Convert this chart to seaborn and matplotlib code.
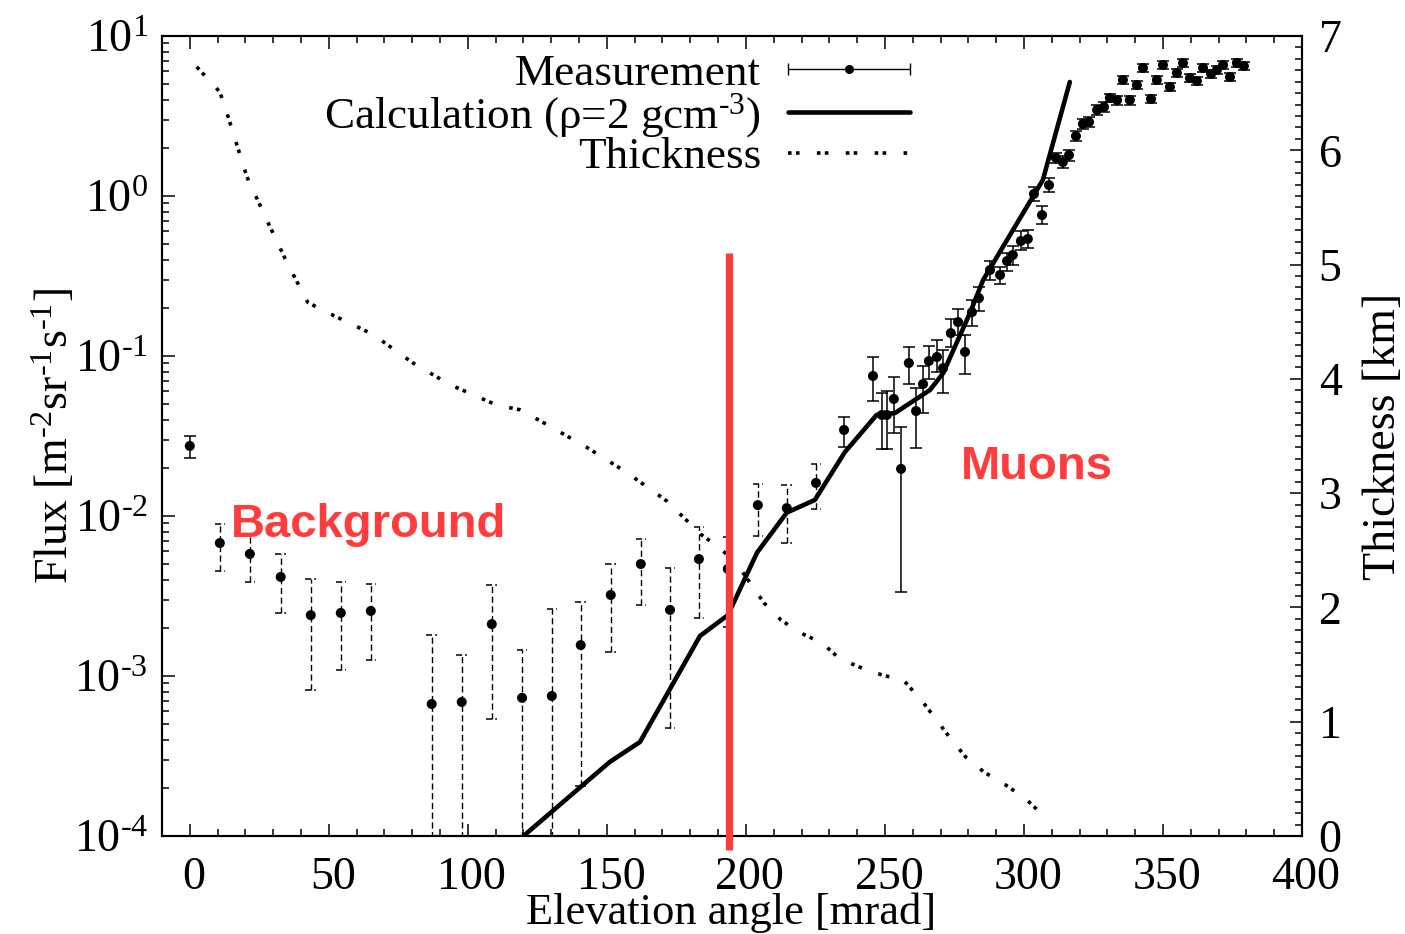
import numpy as np
import pandas as pd
import matplotlib
matplotlib.use("Agg")
import matplotlib.pyplot as plt
import seaborn as sns
from matplotlib.ticker import MultipleLocator, LogLocator, FuncFormatter, NullFormatter, FixedLocator
from matplotlib.container import ErrorbarContainer
from matplotlib.legend_handler import HandlerErrorbar
from matplotlib.lines import Line2D
from matplotlib.collections import LineCollection
from matplotlib.transforms import ScaledTranslation

# ---------------- data ----------------
# first measurement point (solid error bar)
first_angle = [0.0]
first_flux = [0.0274]
first_lo = [0.0230]
first_hi = [0.0316]

# background-region measurements (dashed error bars)
bg_angle = [10.8, 21.6, 32.7, 43.5, 54.3, 65.1, 87.0, 97.8, 108.6, 119.5,
            130.2, 140.6, 151.4, 162.2, 172.7, 183.1, 193.5, 204.3, 214.7, 225.2]
bg_flux = [0.00678, 0.00579, 0.00416, 0.00240, 0.00248, 0.00255, 0.000668, 0.000688, 0.00211, 0.00073,
           0.00075, 0.00156, 0.00321, 0.00501, 0.00259, 0.00538, 0.00467, 0.0117, 0.0112, 0.0161]
bg_hi = [0.0089, 0.0076, 0.00579, 0.00404, 0.00387, 0.00378, 0.0018, 0.00135, 0.00371, 0.00145,
         0.00262, 0.0029, 0.00501, 0.00718, 0.00473, 0.00853, 0.0074, 0.0158, 0.0156, 0.0211]
bg_lo = [0.00453, 0.00387, 0.00248, 0.000818, 0.00109, 0.00126, 2e-5, 2e-5, 0.000538, 2e-5,
         2e-5, 0.000205, 0.00141, 0.00278, 0.000473, 0.0023, 0.00202, 0.0075, 0.0068, 0.0111]

# muon-region measurements (solid error bars)
mu_angle = [235.3, 245.7, 248.9, 250.7, 253.2, 255.8, 258.6, 261.2, 263.7, 265.8,
            268.7, 270.9, 273.7, 276.3, 278.8, 281.3, 283.8, 287.8, 291.4, 293.9,
            296.0, 298.9, 301.4, 303.6, 306.5, 309.0, 311.5, 314.0, 316.2, 318.7,
            321.2, 323.4, 326.3, 328.8, 330.9, 333.5, 335.6, 338.1, 340.6, 342.8,
            345.7, 347.8, 350.0, 352.5, 355.0, 357.2, 359.7, 362.2, 364.4, 367.3,
            369.4, 371.6, 374.1, 376.6, 379.1]
mu_flux = [0.0345, 0.075, 0.0428, 0.0428, 0.0539, 0.0197, 0.0904, 0.0453, 0.0668, 0.093,
           0.0986, 0.084, 0.139, 0.163, 0.106, 0.188, 0.23, 0.345, 0.321, 0.392,
           0.428, 0.523, 0.539, 1.03, 0.76, 1.17, 1.73, 1.63, 1.80, 2.37,
           2.82, 2.90, 3.45, 3.60, 4.10, 3.98, 5.31, 3.98, 4.94, 6.31,
           4.04, 5.31, 6.59, 4.80, 5.87, 6.78, 5.46, 5.23, 6.31, 5.79,
           6.13, 6.59, 5.54, 6.78, 6.49]
mu_lo = [0.0270, 0.0523, 0.0263, 0.0263, 0.0331, 0.00335, 0.0668, 0.0266, 0.044, 0.0718,
         0.0794, 0.0587, 0.114, 0.135, 0.077, 0.155, 0.19, 0.30, 0.28, 0.34,
         0.37, 0.46, 0.47, 0.93, 0.67, 1.06, 1.60, 1.50, 1.66, 2.20,
         2.62, 2.70, 3.22, 3.36, 3.85, 3.73, 5.00, 3.73, 4.64, 5.95,
         3.79, 5.00, 6.22, 4.50, 5.53, 6.40, 5.14, 4.92, 5.95, 5.45,
         5.77, 6.22, 5.22, 6.40, 6.12]
mu_hi = [0.0416, 0.0986, 0.0587, 0.0600, 0.074, 0.036, 0.114, 0.063, 0.0866, 0.1155,
         0.126, 0.109, 0.170, 0.197, 0.135, 0.225, 0.27, 0.39, 0.36, 0.44,
         0.49, 0.60, 0.61, 1.14, 0.86, 1.29, 1.87, 1.77, 1.95, 2.55,
         3.02, 3.10, 3.70, 3.85, 4.37, 4.24, 5.63, 4.24, 5.25, 6.68,
         4.30, 5.63, 6.97, 5.10, 6.22, 7.17, 5.79, 5.55, 6.68, 6.14,
         6.50, 6.97, 5.87, 7.17, 6.87]

# calculation (rho = 2 g/cm3)
calc_angle = [120.0, 151.0, 161.9, 183.5, 193.5, 204.0, 214.7, 224.8, 235.6, 247.0,
              253.6, 266.2, 270.9, 280.6, 285.3, 306.8, 316.5]
calc_flux = [1.0e-4, 2.9e-4, 3.87e-4, 1.78e-3, 2.4e-3, 5.9e-3, 1.05e-2, 1.26e-2, 2.51e-2, 4.28e-2,
             4.4e-2, 6.13e-2, 7.8e-2, 0.186, 0.298, 1.26, 5.16]

# thickness (km, right axis)
thick_angle = [2.5, 10.8, 13.3, 20.5, 27.7, 34.9, 42.4, 47.8, 65.8, 80.2,
               93.5, 110.4, 118.7, 127.7, 142.8, 157.2, 171.6, 183.8, 190.6, 196.8,
               206.5, 212.6, 219.4, 227.3, 233.8, 241.7, 250.0, 256.1, 263.7, 273.7,
               279.1, 285.6, 293.2, 300.4, 306.5]
thick_km = [6.73, 6.51, 6.33, 5.77, 5.39, 5.02, 4.67, 4.60, 4.39, 4.14,
            3.95, 3.77, 3.73, 3.61, 3.40, 3.18, 2.93, 2.64, 2.52, 2.38,
            2.04, 1.89, 1.78, 1.69, 1.55, 1.47, 1.40, 1.38, 1.17, 0.85,
            0.69, 0.56, 0.45, 0.33, 0.19]

cut_angle = 194.0
cut_top = 0.44
cut_bottom = 8.2e-5

x_ticks = [0, 50, 100, 150, 200, 250, 300, 350, 400]
thick_ticks = [0, 1, 2, 3, 4, 5, 6, 7]

# ---------------- style ----------------
sns.set_style("ticks")
plt.rcParams["font.family"] = ["Liberation Serif", "DejaVu Serif"]
plt.rcParams["mathtext.fontset"] = "custom"
plt.rcParams["mathtext.rm"] = "Liberation Serif"
plt.rcParams["mathtext.it"] = "Liberation Serif:italic"
plt.rcParams["mathtext.bf"] = "Liberation Serif:bold"
plt.rcParams["axes.linewidth"] = 1.5
for key in ("text.color", "axes.labelcolor", "xtick.color", "ytick.color", "axes.edgecolor"):
    plt.rcParams[key] = "black"

FS = 33
LFS = 32.5
RED = "#ff3b3b"

fig = plt.figure(figsize=(14.05, 9.34), dpi=100)
ax = fig.add_axes([162 / 1405, 1 - 836 / 934, 1140 / 1405, 800 / 934])
ax2 = ax.twinx()
ax.set_zorder(ax2.get_zorder() + 1)
ax.patch.set_visible(False)

ax.set_yscale("log")
ax.set_xlim(-10, 400)
ax.set_ylim(1e-4, 10)
ax2.set_ylim(0, 7)

# thickness (dotted) on the right axis
thick_df = pd.DataFrame({"angle": thick_angle, "km": thick_km})
sns.lineplot(data=thick_df, x="angle", y="km", ax=ax2, color="k", lw=2.6,
             estimator=None, sort=False, legend=False)
thick_line = ax2.lines[-1]
thick_line.set_linestyle((0, (1.0, 1.2, 1.0, 4.8)))
thick_line.set_dash_capstyle("butt")

# calculation line
calc_df = pd.DataFrame({"angle": calc_angle, "flux": calc_flux})
sns.lineplot(data=calc_df, x="angle", y="flux", ax=ax, color="k", lw=3.3,
             estimator=None, sort=False, legend=False, zorder=2)
calc_line = ax.lines[-1]

# error bars
bg_a = np.array(bg_angle); bg_f = np.array(bg_flux)
bg_l = np.array(bg_lo); bg_h = np.array(bg_hi)
eb = ax.errorbar(bg_a, bg_f, yerr=[bg_f - bg_l, bg_h - bg_f], fmt="none",
                 ecolor="k", elinewidth=1.0, capsize=0, zorder=2)
eb.lines[2][0].set_linestyle((0, (4.5, 2.5)))
cap_half = 1.9
ax.hlines(bg_h, bg_a - cap_half, bg_a + cap_half, colors="k", lw=1.1,
          linestyles=(0, (4, 2)), zorder=2)
ax.hlines(bg_l, bg_a - cap_half, bg_a + cap_half, colors="k", lw=1.1,
          linestyles=(0, (4, 2)), zorder=2)

for a, f, lo, hi in [(first_angle, first_flux, first_lo, first_hi),
                     (mu_angle, mu_flux, mu_lo, mu_hi)]:
    a = np.array(a); f = np.array(f); lo = np.array(lo); hi = np.array(hi)
    ax.errorbar(a, f, yerr=[f - lo, hi - f], fmt="none", ecolor="k",
                elinewidth=1.1, capsize=4.3, capthick=1.1, zorder=2)

# markers
meas_df = pd.DataFrame({"angle": first_angle + bg_angle + mu_angle,
                        "flux": first_flux + bg_flux + mu_flux})
sns.scatterplot(data=meas_df, x="angle", y="flux", ax=ax, color="k", s=52,
                edgecolor="none", zorder=3, legend=False)

# red separation line
ax.vlines([cut_angle], [cut_bottom], [cut_top], colors=RED, lw=5.2,
          clip_on=False, zorder=4)

# annotations
ax.text(64.4, 0.0074, "Background", color=RED, fontsize=34, fontweight="bold",
        family="Liberation Sans", ha="center", va="baseline", zorder=5)
ax.text(304.7, 0.017, "Muons", color=RED, fontsize=34, fontweight="bold",
        family="Liberation Sans", ha="center", va="baseline", zorder=5)

# ---------------- axes ----------------
def log_label(v, pos):
    e = int(round(np.log10(v)))
    return r"10$^{\text{%d}}$" % e

ax.xaxis.set_major_locator(FixedLocator(x_ticks))
ax.xaxis.set_minor_locator(MultipleLocator(10))
ax.yaxis.set_major_locator(LogLocator(base=10, numticks=10))
ax.yaxis.set_minor_locator(LogLocator(base=10, subs=np.arange(2, 10), numticks=20))
ax.yaxis.set_major_formatter(FuncFormatter(log_label))
ax.yaxis.set_minor_formatter(NullFormatter())
ax.tick_params(which="both", direction="in", top=True, right=False, width=1.1,
               labelsize=FS)
ax.tick_params(which="major", length=9)
ax.tick_params(axis="x", which="major", pad=15)
ax.tick_params(axis="y", which="major", pad=10)
ax.tick_params(which="minor", length=5)

ax2.yaxis.set_major_locator(FixedLocator(thick_ticks))
ax2.yaxis.set_minor_locator(MultipleLocator(0.1))
ax2.tick_params(which="both", direction="in", width=1.1, labelsize=FS)
ax2.tick_params(which="major", length=9, pad=12)
ax2.tick_params(which="minor", length=5)

ax.set_xlabel("Elevation angle [mrad]", fontsize=32)
ax.xaxis.set_label_coords(0.499, -0.071)
ax.set_ylabel(r"Flux [m$^{\text{-2}}$sr$^{\text{-1}}$s$^{\text{-1}}$]", fontsize=FS)
ax.yaxis.set_label_coords(-0.074, 0.5)
ax2.set_ylabel("Thickness [km]", fontsize=FS)
ax2.yaxis.set_label_coords(1.053, 0.5)

for a_ in (ax, ax2):
    for s in a_.spines.values():
        s.set_linewidth(1.5)
        s.set_color("k")

# shift x tick labels slightly right, as in the reference
shift = ScaledTranslation(4 / 100, 0, fig.dpi_scale_trans)
for lab in ax.get_xticklabels():
    lab.set_transform(lab.get_transform() + shift)

# ---------------- legend ----------------
dl = Line2D([], [], marker="o", ls="none", color="k", ms=5.5)
cl = Line2D([], [], marker="|", ls="none", color="k", ms=9, mew=1.0)
bl = LineCollection([], colors="k", linewidths=1.0)
proxy = ErrorbarContainer((dl, (cl, cl), (bl,)), has_xerr=True, has_yerr=False,
                          label="Measurement")
leg = ax.legend([proxy, calc_line, thick_line],
                ["Measurement", r"Calculation (ρ=2 gcm$^{\text{-3}}$)", "Thickness"],
                loc="upper right", bbox_to_anchor=(0.664, 0.99), markerfirst=False,
                frameon=False, fontsize=LFS, handlelength=2.7, handletextpad=0.6,
                labelspacing=-0.06, borderpad=0.2, borderaxespad=0.0,
                handler_map={ErrorbarContainer: HandlerErrorbar(xerr_size=1.35)})

fig.savefig("out.png", dpi=100)
